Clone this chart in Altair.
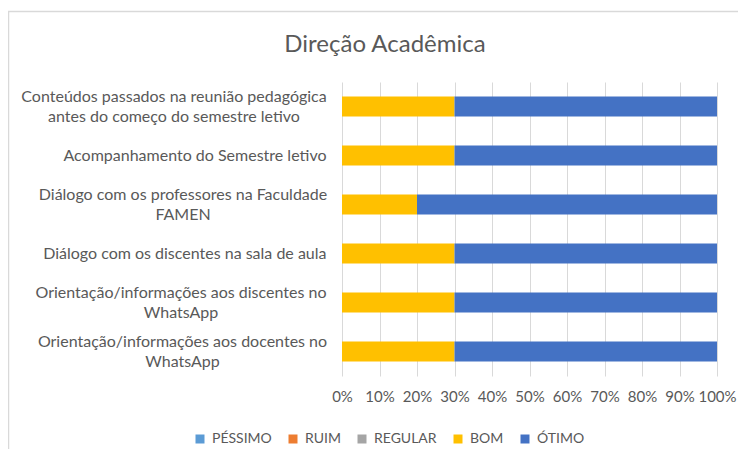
import altair as alt
import pandas as pd

categories = [
    "Conteúdos passados na reunião pedagógica\nantes do começo do semestre letivo",
    "Acompanhamento do Semestre letivo",
    "Diálogo com os professores na Faculdade\nFAMEN",
    "Diálogo com os discentes na sala de aula",
    "Orientação/informações aos discentes no\nWhatsApp",
    "Orientação/informações aos docentes no\nWhatsApp",
]
series = ["PÉSSIMO", "RUIM", "REGULAR", "BOM", "ÓTIMO"]
colors = ["#5B9BD5", "#ED7D31", "#A5A5A5", "#FFC000", "#4472C4"]
pessimo = [0, 0, 0, 0, 0, 0]
ruim = [0, 0, 0, 0, 0, 0]
regular = [0, 0, 0, 0, 0, 0]
bom = [30, 30, 20, 30, 30, 30]
otimo = [70, 70, 80, 70, 70, 70]
x_ticks = [0, 0.1, 0.2, 0.3, 0.4, 0.5, 0.6, 0.7, 0.8, 0.9, 1.0]
title_text = "Direção Acadêmica"

rows = []
for s_i, (name, vals) in enumerate(zip(series, [pessimo, ruim, regular, bom, otimo])):
    for c, v in zip(categories, vals):
        rows.append({"cat": c, "serie": name, "valor": v, "ordem": s_i})
df = pd.DataFrame(rows)

FONT = "Lato"
TXT = "#595959"
W, H = 375, 294

multi = "indexof(datum.value, '\\n') >= 0"

bars = alt.Chart(df).mark_bar(size=20).encode(
    y=alt.Y("cat:N", sort=categories, title=None,
            scale=alt.Scale(paddingInner=0, paddingOuter=0),
            axis=alt.Axis(domain=False, ticks=False, grid=False,
                          labelExpr="split(datum.label, '\\n')",
                          labelFont=FONT, labelFontSize=16, labelColor=TXT,
                          labelLineHeight=20, labelLimit=400,
                          labelAlign={"condition": {"test": multi, "value": "center"},
                                      "value": "right"},
                          labelOffset={"condition": {"test": multi, "value": -10},
                                       "value": 0},
                          labelPadding={"condition": [
                              {"test": "indexof(datum.value, 'Conteúdos') >= 0", "value": 168.5},
                              {"test": "indexof(datum.value, 'professores') >= 0", "value": 159.5},
                              {"test": "indexof(datum.value, 'discentes no') >= 0", "value": 161.5},
                              {"test": "indexof(datum.value, 'docentes no') >= 0", "value": 160},
                          ], "value": 16})),
    x=alt.X("valor:Q", stack="normalize", title=None,
            scale=alt.Scale(domain=[0, 1]),
            axis=alt.Axis(values=x_ticks, format=".0%", domain=False, ticks=False,
                          grid=True, gridColor="#D9D9D9", gridWidth=1,
                          labelOverlap=False, labelFlush=False,
                          labelFont=FONT, labelFontSize=15, labelColor=TXT,
                          labelPadding=13)),
    color=alt.Color("serie:N", sort=series,
                    scale=alt.Scale(domain=series, range=colors),
                    legend=alt.Legend(title=None, orient="none", direction="horizontal",
                                      legendX=-149, legendY=350,
                                      symbolType="square", symbolSize=81,
                                      symbolStrokeWidth=0, labelFont=FONT,
                                      labelFontSize=14, labelColor=TXT,
                                      labelOffset=5, columnPadding=14, padding=0)),
    order=alt.Order("ordem:Q"),
)

one = pd.DataFrame({"k": [0]})

frame = alt.Chart(one).mark_rect(
    filled=False, stroke="#D9D9D9", strokeWidth=1.5
).encode(
    x=alt.value(-333.5), y=alt.value(-70.5),
    x2=alt.value(W + 60), y2=alt.value(H + 120),
)

title = alt.Chart(one).mark_text(
    text=title_text, font=FONT, fontSize=24, color=TXT,
    align="center", baseline="alphabetic"
).encode(x=alt.value(43), y=alt.value(-30))

chart = alt.layer(frame, bars, title).properties(
    width=W, height=H,
    autosize=alt.AutoSizeParams(type="none"),
    padding={"left": 334, "top": 74, "right": 21, "bottom": 73},
).configure_view(stroke=None)

chart.save("out.html", embed_options={"renderer": "svg", "actions": False})
